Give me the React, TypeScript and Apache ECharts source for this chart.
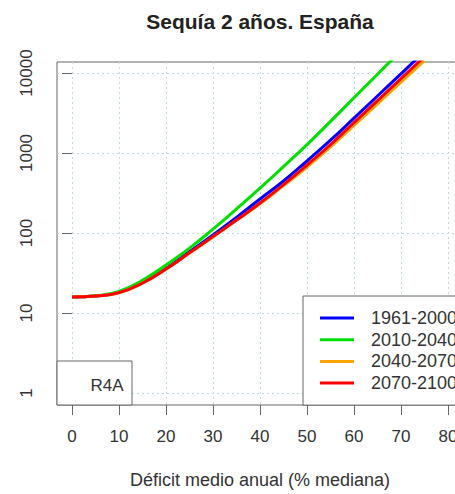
import React, { useEffect, useRef } from 'react';
import * as echarts from 'echarts';

// Return frequency curves for 2-year droughts in Spain, per climate period.
const periods = ['1961-2000', '2010-2040', '2040-2070', '2070-2100'];
const periodColors = ['#0000ff', '#00e000', '#ffa500', '#ff0000'];

// Mean annual deficit (% of median)
const deficit = [0, 5, 10, 15, 20, 25, 30, 35, 40, 45, 50, 55, 60, 65, 70, 75];

// Return period (years) for each deficit value
const rp1961 = [15.8, 16.3, 18.1, 24.0, 36.1, 58.2, 94.4, 157, 266, 447, 794, 1445, 2723, 5152, 9772, 18535];
const rp2010 = [15.8, 16.4, 18.6, 25.7, 39.8, 64.6, 112, 200, 363, 676, 1274, 2483, 4898, 9661, 19055];
const rp2040 = [15.8, 16.3, 17.9, 23.6, 35.3, 56.1, 89.5, 144, 232, 391, 668, 1189, 2213, 4121, 7674, 14289];
const rp2070 = [15.8, 16.3, 18.0, 23.7, 35.5, 56.5, 90.2, 145, 237, 403, 708, 1274, 2399, 4519, 8511, 16032];

const xTicks = [0, 10, 20, 30, 40, 50, 60, 70, 80];
const yTicks = [1, 10, 100, 1000, 10000];

const FONT = '"Liberation Sans", Arial, Helvetica, sans-serif';
const TEXT = '#333333';
const FRAME = '#666666';
const GRID = '#bcdde8';

export default function App() {
  const ref = useRef<HTMLDivElement>(null);

  useEffect(() => {
    if (!ref.current) return;
    const chart = echarts.init(ref.current, undefined, { renderer: 'svg' });
    const curves = [rp1961, rp2010, rp2040, rp2070];

    chart.setOption({
      animation: false,
      textStyle: { fontFamily: FONT },
      title: {
        text: 'Sequía 2 años. España',
        left: 'center',
        top: 6,
        textStyle: { fontFamily: FONT, fontSize: 21, fontWeight: 'bold', color: '#222' },
      },
      grid: {
        left: 57,
        right: 57,
        top: 62,
        bottom: 89,
        show: true,
        borderColor: FRAME,
        borderWidth: 1,
      },
      xAxis: {
        type: 'value',
        min: -3.2,
        max: 83.2,
        axisLine: { show: false },
        axisTick: { show: true, length: 10, lineStyle: { color: FRAME }, customValues: xTicks },
        axisLabel: { customValues: xTicks, margin: 23, fontSize: 17, color: TEXT, fontFamily: FONT },
        splitLine: { show: true, lineStyle: { color: GRID, type: [2, 3], width: 1 } },
        name: 'Déficit medio anual (% mediana)',
        nameLocation: 'middle',
        nameGap: 66,
        nameTextStyle: { fontSize: 18, color: TEXT, fontFamily: FONT },
      },
      yAxis: {
        type: 'log',
        logBase: 10,
        min: 0.708,
        max: 13720,
        axisLine: { show: false },
        axisTick: { show: true, length: 10, lineStyle: { color: FRAME }, customValues: yTicks },
        axisLabel: {
          customValues: yTicks,
          rotate: 90,
          margin: 22,
          fontSize: 17,
          color: TEXT,
          fontFamily: FONT,
          formatter: (v: number) => String(Math.round(v)),
        },
        splitLine: { show: true, lineStyle: { color: GRID, type: [2, 3], width: 1 } },
      },
      legend: {
        orient: 'vertical',
        left: 303,
        top: 296,
        padding: [12, 10, 12, 17],
        itemGap: 1.7,
        itemWidth: 34,
        itemHeight: 3,
        icon: 'rect',
        backgroundColor: '#ffffff',
        borderColor: FRAME,
        borderWidth: 1,
        borderRadius: 0,
        textStyle: { fontSize: 18, color: TEXT, fontFamily: FONT, lineHeight: 20, padding: [0, 0, 0, 12] },
        data: periods,
      },
      graphic: [
        {
          type: 'rect',
          z: 10,
          shape: { x: 57, y: 361, width: 75, height: 44 },
          style: { fill: '#ffffff', stroke: FRAME, lineWidth: 1 },
        },
        {
          type: 'text',
          z: 11,
          x: 107,
          y: 385,
          style: {
            text: 'R4A',
            align: 'center',
            verticalAlign: 'middle',
            fontSize: 17,
            fontFamily: FONT,
            fill: TEXT,
          },
        },
      ],
      series: periods.map((name, i) => ({
        name,
        type: 'line',
        smooth: 0.5,
        showSymbol: false,
        clip: true,
        color: periodColors[i],
        lineStyle: { width: 3, color: periodColors[i] },
        data: curves[i].map((v, j) => [deficit[j], v]),
      })),
    });

    return () => chart.dispose();
  }, []);

  return (
    <div style={{ position: 'fixed', left: 0, top: 0, width: 455, height: 494, overflow: 'hidden', background: '#fff' }}>
      <div ref={ref} style={{ width: 520, height: 494 }} />
    </div>
  );
}
